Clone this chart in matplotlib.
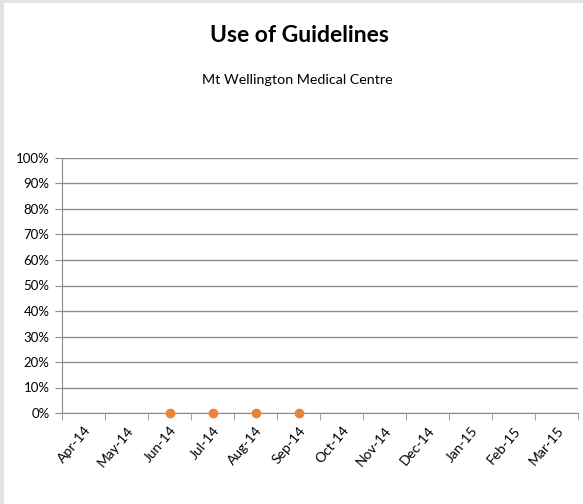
import numpy as np
import matplotlib
matplotlib.use('Agg')
import matplotlib.pyplot as plt
from matplotlib.patches import Rectangle

plt.rcParams['font.family'] = ['Lato', 'DejaVu Sans']

months = ['Apr-14', 'May-14', 'Jun-14', 'Jul-14', 'Aug-14', 'Sep-14',
          'Oct-14', 'Nov-14', 'Dec-14', 'Jan-15', 'Feb-15', 'Mar-15']
usage = [np.nan, np.nan, 0, 0, 0, 0, np.nan, np.nan, np.nan, np.nan, np.nan, np.nan]
y_ticks = [0, 10, 20, 30, 40, 50, 60, 70, 80, 90, 100]

fig = plt.figure(figsize=(5.83, 5.04), dpi=100)
fig.patch.set_facecolor('#e3e3e3')
fig.patches.append(Rectangle((4 / 583, 0), 1, 1 - 3 / 504, transform=fig.transFigure,
                             facecolor='white', edgecolor='none', zorder=-10))

ax = fig.add_axes([62 / 583, 1 - 413 / 504, 516 / 583, 255 / 504])
ax.set_facecolor('white')

x = np.arange(len(months))
ax.plot(x, usage, linestyle='none', marker='o', markersize=6,
        color='#e8843a', zorder=5, clip_on=False)

ax.set_xlim(-0.5, len(months) - 0.5)
ax.set_ylim(0, 100)
ax.set_yticks(y_ticks)
ax.set_yticklabels([f'{v}%' for v in y_ticks], fontsize=9.5)
ax.yaxis.grid(True, color='#8c8c8c', linewidth=1)
ax.set_axisbelow(True)

ax.set_xticks(x)
ax.set_xticklabels(months, rotation=50, ha='right', rotation_mode='anchor', fontsize=10)
ax.set_xticks(np.arange(-0.5, len(months)), minor=True)
ax.tick_params(axis='x', which='major', length=0, pad=8)
ax.tick_params(axis='x', which='minor', length=5, color='#8c8c8c')
ax.tick_params(axis='y', length=5, color='#8c8c8c', pad=4)

for side in ['top', 'right']:
    ax.spines[side].set_visible(False)
ax.spines['left'].set_color('#8c8c8c')
ax.spines['bottom'].set_color('#8c8c8c')

fig.text(0.513, 1 - 35 / 504, 'Use of Guidelines', ha='center', va='center',
         fontsize=16.5, fontweight='bold')
fig.text(0.510, 1 - 80 / 504, 'Mt Wellington Medical Centre', ha='center', va='center',
         fontsize=10.3)

fig.savefig('out.png', dpi=100, facecolor=fig.get_facecolor())
